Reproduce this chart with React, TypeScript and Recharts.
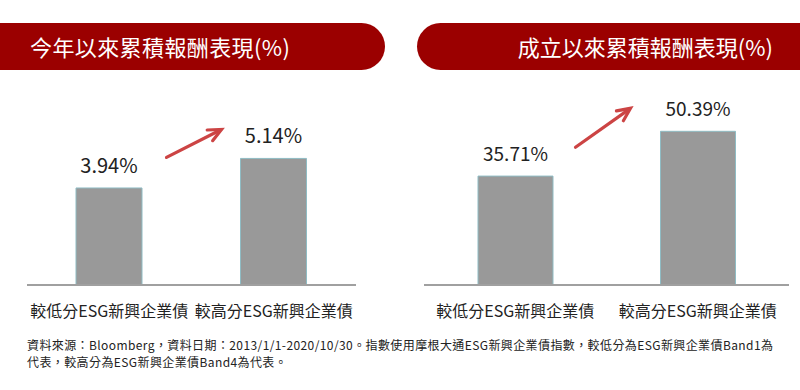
import React from 'react';
import { BarChart, Bar, XAxis, YAxis } from 'recharts';

const categories = ['較低分ESG新興企業債', '較高分ESG新興企業債'];
const ytdReturns = [3.94, 5.14];
const sinceInceptionReturns = [35.71, 50.39];
const panelTitles = ['今年以來累積報酬表現(%)', '成立以來累積報酬表現(%)'];
const footnoteLines = [
  '資料來源：Bloomberg，資料日期：2013/1/1-2020/10/30。指數使用摩根大通ESG新興企業債指數，較低分為ESG新興企業債Band1為',
  '代表，較高分為ESG新興企業債Band4為代表。',
];

const FONT = '"Noto Sans CJK TC", "Noto Sans", sans-serif';
const RED = '#9b0000';
const ARROW = '#cc4444';

type ArrowSpec = { sx: number; sy: number; ex: number; ey: number };

function makeLabel(fontSize: number, arrow: ArrowSpec) {
  return (props: any) => {
    const { x, y, width, value, index } = props;
    const cx = x + width / 2;
    const els: React.ReactNode[] = [
      <text key="t" x={cx} y={y - 15} textAnchor="middle" fontSize={fontSize} fill="#222" fontFamily={FONT}>
        {Number(value).toFixed(2)}%
      </text>,
    ];
    if (index === 1) {
      const sx = x + arrow.sx, sy = y + arrow.sy, ex = x + arrow.ex, ey = y + arrow.ey;
      const ang = Math.atan2(ey - sy, ex - sx);
      const L = 13, W = 6;
      const bx = ex - L * Math.cos(ang), by = ey - L * Math.sin(ang);
      const p1x = bx + W * Math.sin(ang), p1y = by - W * Math.cos(ang);
      const p2x = bx - W * Math.sin(ang), p2y = by + W * Math.cos(ang);
      els.push(
        <g key="a">
          <line x1={sx} y1={sy} x2={ex - 4 * Math.cos(ang)} y2={ey - 4 * Math.sin(ang)} stroke={ARROW} strokeWidth={3.2} strokeLinecap="round" />
          <polyline points={`${p1x},${p1y} ${ex},${ey} ${p2x},${p2y}`} fill="none" stroke={ARROW} strokeWidth={3.2} strokeLinecap="round" strokeLinejoin="miter" />
        </g>
      );
    }
    return <g>{els}</g>;
  };
}

const CatTick = (props: any) => {
  const { x, y, payload } = props;
  return (
    <text x={x} y={y} dy={24} textAnchor="middle" fontSize={16} fill="#222" fontFamily={FONT}>
      {payload.value}
    </text>
  );
};

function Panel(props: {
  values: number[];
  domainMax: number;
  margin: { top: number; right: number; left: number; bottom: number };
  barSize: number;
  labelSize: number;
  arrow: ArrowSpec;
}) {
  const data = categories.map((c, i) => ({ name: c, value: props.values[i] }));
  return (
    <BarChart width={400} height={330} data={data} margin={props.margin} barCategoryGap={0}>
      <XAxis
        dataKey="name"
        height={45}
        axisLine={{ stroke: '#a0a0a0', strokeWidth: 2 }}
        tickLine={false}
        tick={<CatTick />}
        interval={0}
      />
      <YAxis hide domain={[0, props.domainMax]} />
      <Bar
        dataKey="value"
        fill="#999999"
        stroke="#8fbcc4"
        strokeWidth={1}
        barSize={props.barSize}
        isAnimationActive={false}
        label={makeLabel(props.labelSize, props.arrow)}
      />
    </BarChart>
  );
}

export default function App() {
  return (
    <div style={{ position: 'absolute', left: 0, top: 0, width: 800, height: 390, background: '#fff', fontFamily: FONT, overflow: 'hidden' }}>
      <div
        style={{
          position: 'absolute', left: 0, top: 23, width: 385, height: 47, background: RED,
          borderTopRightRadius: 24, borderBottomRightRadius: 24,
        }}
      >
        <div style={{ position: 'absolute', left: 30, top: 0, height: 47, lineHeight: '47px', color: '#fff', fontSize: 22, letterSpacing: 0.4, whiteSpace: 'nowrap' }}>
          {panelTitles[0]}
        </div>
      </div>
      <div
        style={{
          position: 'absolute', left: 417, top: 23, width: 383, height: 47, background: RED,
          borderTopLeftRadius: 24, borderBottomLeftRadius: 24,
        }}
      >
        <div style={{ position: 'absolute', right: 27, top: 0, height: 47, lineHeight: '47px', color: '#fff', fontSize: 22, letterSpacing: 0, whiteSpace: 'nowrap' }}>
          {panelTitles[1]}
        </div>
      </div>

      <div style={{ position: 'absolute', left: 0, top: 0 }}>
        <Panel
          values={ytdReturns}
          domainMax={8}
          margin={{ top: 88, right: 44, left: 27, bottom: 0 }}
          barSize={66}
          labelSize={20}
          arrow={{ sx: -74, sy: -1, ex: -19, ey: -29 }}
        />
      </div>
      <div style={{ position: 'absolute', left: 400, top: 0 }}>
        <Panel
          values={sinceInceptionReturns}
          domainMax={60}
          margin={{ top: 102, right: 11, left: 24, bottom: 0 }}
          barSize={75}
          labelSize={19}
          arrow={{ sx: -85, sy: 16, ex: -30, ey: -23 }}
        />
      </div>

      <div style={{ position: 'absolute', left: 27, top: 336, fontSize: 12, lineHeight: '17px', letterSpacing: 0.4, color: '#222', whiteSpace: 'nowrap' }}>
        <div>{footnoteLines[0]}</div>
        <div>{footnoteLines[1]}</div>
      </div>
    </div>
  );
}
